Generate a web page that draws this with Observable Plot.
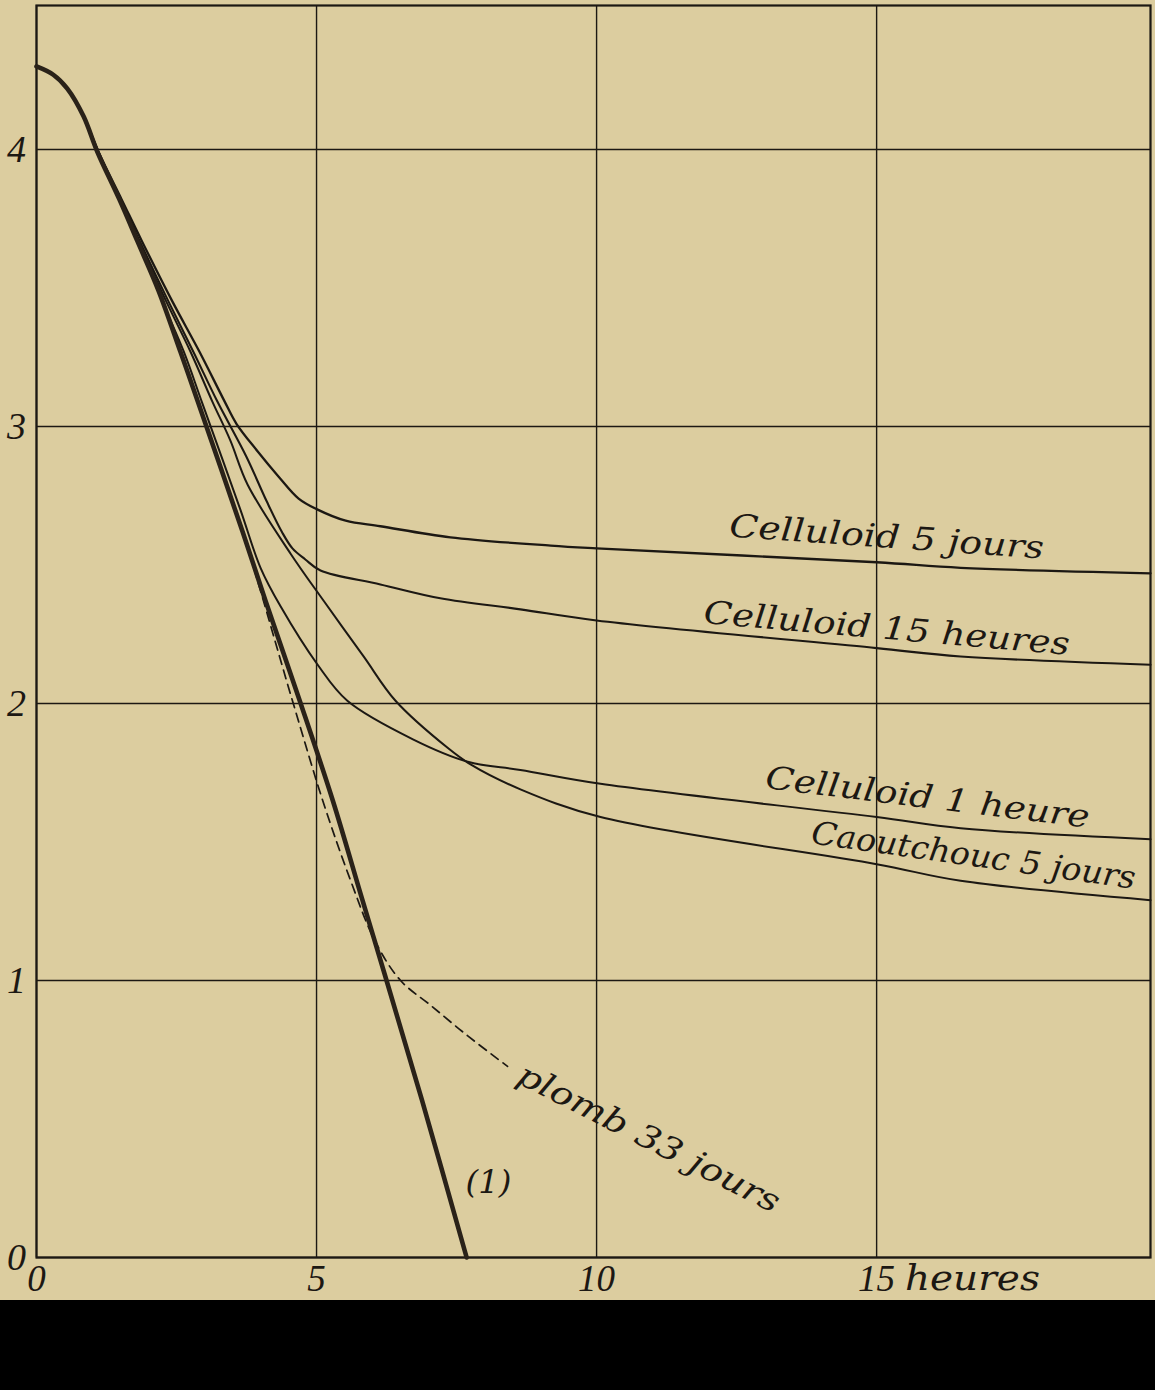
<!DOCTYPE html>
<html><head><meta charset="utf-8">
<script src="https://cdn.jsdelivr.net/npm/d3@7"></script>
<script src="https://cdn.jsdelivr.net/npm/@observablehq/plot@0.6"></script>
<style>
html,body{margin:0;padding:0;background:#dccd9f;}
#chart{width:1155px;height:1300px;overflow:hidden;}
#footer{width:1155px;height:90px;background:#000;}
</style></head><body>
<div id="chart"></div><div id="footer"></div>
<script>
// ---- data (x: heures, y: ordonnée) ----
const xTicks = [0, 5, 10, 15];
const xTickLabels = ["0", "5", "10", "15"];
const xUnit = "heures";
const yTicks = [0, 1, 2, 3, 4];
const yTickLabels = ["0", "1", "2", "3", "4"];

const courbe1 = [[0,4.30],[0.3,4.27],[0.55,4.22],[0.84,4.12],[1.09,3.99],[1.48,3.82],[1.80,3.67],[2.18,3.49],[2.57,3.27],[2.88,3.09],[3.68,2.62],[4.09,2.37],[4.70,2.01],[5.29,1.65],[5.82,1.29],[6.25,1.00],[6.88,0.57],[7.68,0]];
const plomb33j = [[0,4.30],[0.3,4.27],[0.55,4.22],[0.84,4.12],[1.09,3.99],[1.48,3.82],[1.80,3.67],[2.18,3.49],[2.57,3.27],[2.88,3.09],[3.68,2.62],[4.57,2.01],[5.11,1.65],[5.61,1.36],[6.05,1.14],[6.5,1.0],[7.04,0.91],[7.70,0.80],[8.41,0.69]];
const cellu5j = [[0,4.30],[0.3,4.27],[0.55,4.22],[0.84,4.12],[1.11,3.99],[1.52,3.82],[1.88,3.67],[2.43,3.45],[2.91,3.27],[3.36,3.09],[3.57,3.01],[3.95,2.91],[4.32,2.82],[4.68,2.74],[5.02,2.70],[5.52,2.66],[6.14,2.64],[7.39,2.60],[9.18,2.57],[10,2.56],[15,2.51],[16.5,2.49],[19.89,2.47]];
const cellu15h = [[0,4.30],[0.3,4.27],[0.55,4.22],[0.84,4.12],[1.11,3.99],[1.5,3.82],[1.84,3.67],[2.36,3.45],[2.80,3.27],[3.23,3.09],[3.75,2.89],[4.11,2.73],[4.38,2.62],[4.57,2.56],[4.80,2.52],[5.07,2.48],[6.14,2.43],[7.21,2.38],[8.64,2.34],[10,2.30],[15,2.20],[16.5,2.17],[19.89,2.14]];
const cellu1h = [[0,4.30],[0.3,4.27],[0.55,4.22],[0.84,4.12],[1.09,3.99],[1.48,3.82],[1.82,3.67],[2.25,3.45],[2.63,3.27],[2.95,3.09],[3.64,2.70],[4.0,2.49],[4.36,2.35],[5.02,2.14],[5.55,2.01],[6.73,1.87],[7.70,1.79],[8.64,1.76],[10.07,1.71],[15,1.59],[16.5,1.55],[19.89,1.51]];
const caout5j = [[0,4.30],[0.3,4.27],[0.55,4.22],[0.84,4.12],[1.09,3.99],[1.48,3.82],[1.82,3.67],[2.32,3.45],[2.75,3.27],[3.14,3.09],[3.46,2.95],[3.77,2.79],[4.54,2.54],[5.13,2.37],[5.84,2.17],[6.41,2.01],[7.34,1.84],[7.75,1.78],[8.64,1.69],[10.07,1.59],[15,1.42],[16.5,1.36],[19.89,1.29]];

const labelTexts = ["Celluloid 5 jours", "Celluloid 15 heures", "Celluloid 1 heure", "Caoutchouc 5 jours", "plomb 33 jours", "(1)"];
const labelX = [15.18, 15.18, 15.91, 16.73, 10.93, 8.07];
const labelY = [2.60, 2.27, 1.66, 1.45, 0.43, 0.27];

// ---- styles ----
const ink = "#1c1813";
const paper = "#dccd9f";
const labelRotate = [4, 5, 7, 8, 27, 0];
const labelLength = {"Celluloid 5 jours": 315, "Celluloid 15 heures": 367, "Celluloid 1 heure": 326,
  "Caoutchouc 5 jours": 327, "plomb 33 jours": 290, "(1)": 46, "heures": 135};
const labels = labelTexts.map((t, i) => ({t, x: labelX[i], y: labelY[i], r: labelRotate[i]}));
const px = d => d[0], py = d => d[1];

const plot = Plot.plot({
  width: 1155, height: 1300,
  marginLeft: 36, marginRight: 5, marginTop: 5, marginBottom: 43,
  x: {domain: [0, 19.89], axis: null},
  y: {domain: [0, 4.52], axis: null},
  style: {background: paper, color: ink, fontFamily: "Liberation Serif", overflow: "visible"},
  marks: [
    Plot.ruleX(xTicks, {stroke: ink, strokeWidth: 1.4}),
    Plot.ruleY(yTicks, {stroke: ink, strokeWidth: 1.5}),
    Plot.frame({stroke: ink, strokeWidth: 2.2}),
    Plot.line(cellu5j, {x: px, y: py, curve: "catmull-rom", stroke: ink, strokeWidth: 2.3}),
    Plot.line(cellu15h, {x: px, y: py, curve: "catmull-rom", stroke: ink, strokeWidth: 2.1}),
    Plot.line(cellu1h, {x: px, y: py, curve: "catmull-rom", stroke: ink, strokeWidth: 2}),
    Plot.line(caout5j, {x: px, y: py, curve: "catmull-rom", stroke: ink, strokeWidth: 2}),
    Plot.line(plomb33j, {x: px, y: py, curve: "catmull-rom", stroke: ink, strokeWidth: 1.7, strokeDasharray: "9,6"}),
    Plot.line(courbe1, {x: px, y: py, curve: "catmull-rom", stroke: "#2a2219", strokeWidth: 4.6}),
    Plot.text(labels, {x: "x", y: "y", text: "t", rotate: "r", fontSize: 32, fontStyle: "italic",
      fontFamily: "DejaVu Serif", fill: ink}),
    Plot.text(yTicks, {x: 0, y: d => d, text: (d, i) => yTickLabels[i], dx: -20, fontSize: 38,
      fontStyle: "italic", fill: ink, textAnchor: "middle"}),
    Plot.text(xTicks, {x: d => d, y: 0, text: (d, i) => xTickLabels[i], dy: 22, fontSize: 37,
      fontStyle: "italic", fill: ink, textAnchor: "middle"}),
    Plot.text([xUnit], {x: 16.71, y: 0, text: d => d, dy: 21, fontSize: 36, fontStyle: "italic",
      fontFamily: "DejaVu Serif", fill: ink})
  ]
});
document.getElementById("chart").appendChild(plot);
d3.select(plot).selectAll("text").each(function() {
  const len = labelLength[this.textContent];
  if (len) {
    this.setAttribute("textLength", len);
    this.setAttribute("lengthAdjust", "spacingAndGlyphs");
  }
});
</script>
</body></html>
